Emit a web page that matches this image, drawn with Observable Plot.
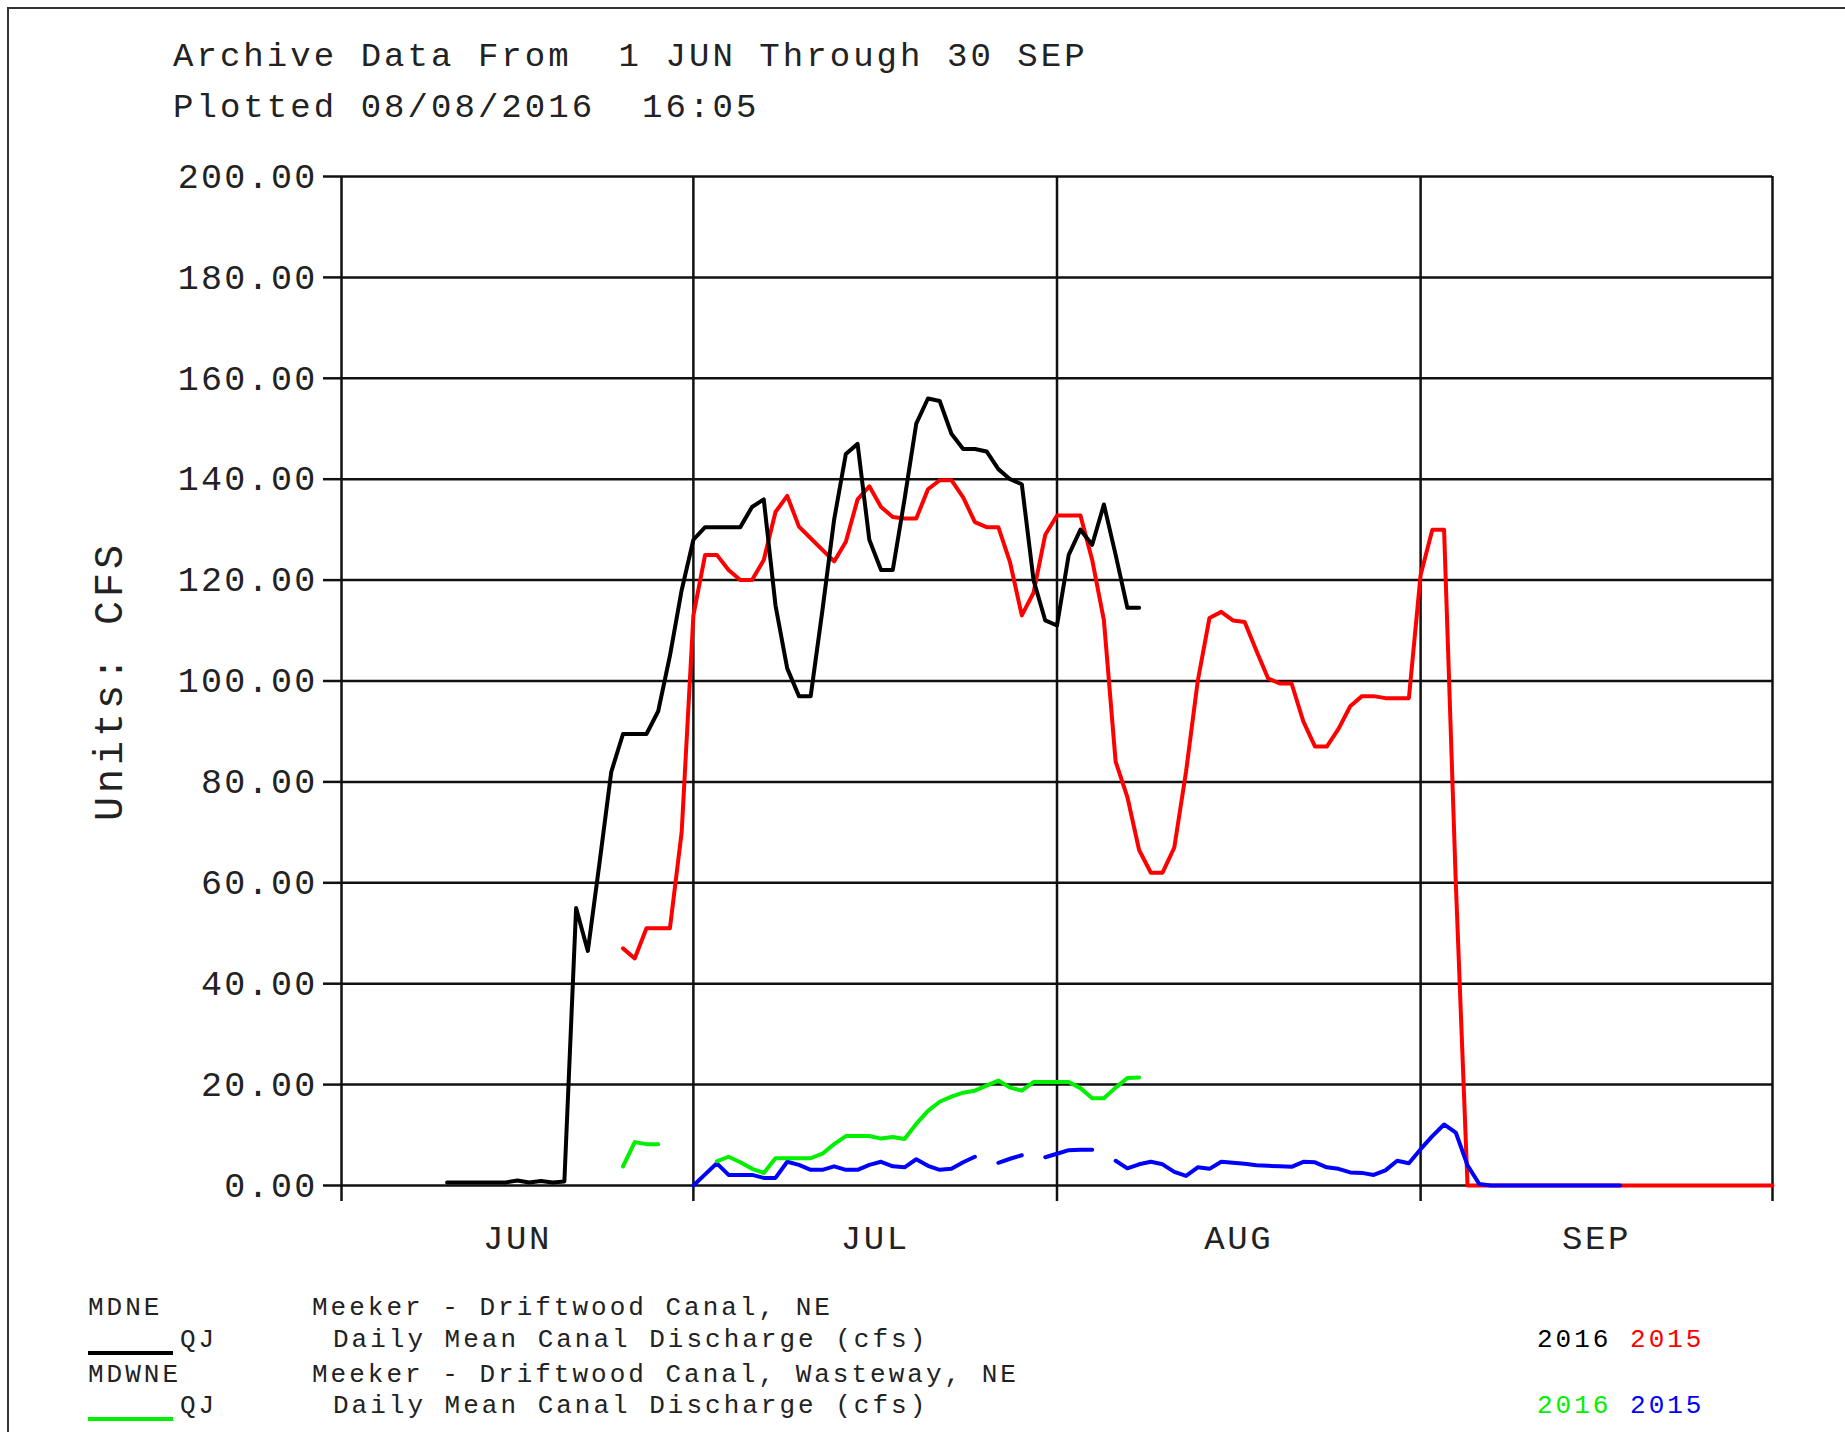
<!DOCTYPE html>
<html>
<head>
<meta charset="utf-8">
<script src="https://cdn.jsdelivr.net/npm/d3@7"></script>
<script src="https://cdn.jsdelivr.net/npm/@observablehq/plot@0.6"></script>
<style>
  html, body { margin: 0; padding: 0; background: #fff; }
  #page { position: relative; width: 1845px; height: 1432px; overflow: hidden; background: #fff; font-family: "Liberation Mono", monospace; }
  .abs { position: absolute; }
  svg text { white-space: pre; }
</style>
</head>
<body>
<div id="page"></div>
<script>
// ---------------- data (x = days since 1 JUN) ----------------
const titleLines = ["Archive Data From  1 JUN Through 30 SEP", "Plotted 08/08/2016  16:05"];
const months = ["JUN", "JUL", "AUG", "SEP"];
const monthStarts = [0, 30, 61, 92, 122];
const monthMids = [15, 45.5, 76.5, 107];
const yTicks = [0, 20, 40, 60, 80, 100, 120, 140, 160, 180, 200];

// MDNE 2016 (black)
const mdne2016Start = 9;
const mdne2016 = [0.6, 0.6, 0.6, 0.6, 0.6, 0.6, 1.0, 0.6, 0.9, 0.6, 0.8,
  55, 46.5, 64, 82, 89.5, 89.5, 89.5, 94, 105, 118, 128, 130.5, 130.5, 130.5, 130.5,
  134.5, 136, 115, 102.5, 97, 97, 114, 132, 145, 147, 128, 122, 122, 136, 151, 156,
  155.5, 149, 146, 146, 145.5, 142, 140, 139, 120, 112, 111, 125, 130, 127, 135, 125,
  114.5, 114.5];

// MDNE 2015 (red)
const mdne2015Start = 24;
const mdne2015 = [47, 45, 51, 51, 51, 70, 113, 125, 125, 122, 120, 120, 124, 133.5, 136.7,
  130.6, 128.3, 126, 123.7, 127.6, 136, 138.6, 134.5, 132.5, 132.2, 132.2, 138, 139.8,
  139.8, 136.4, 131.5, 130.5, 130.5, 123.5, 113, 117.5, 129, 132.8, 132.8, 132.8, 124,
  112, 84, 77, 66.5, 62, 62, 67, 82, 100, 112.5, 113.7, 112, 111.7, 106, 100.5, 99.5,
  99.5, 92, 87, 87, 90.5, 95, 97, 97, 96.6, 96.6, 96.6, 121, 130, 130, 60,
  0, 0, 0, 0, 0, 0, 0, 0, 0, 0, 0, 0, 0, 0, 0, 0, 0, 0, 0, 0, 0, 0, 0, 0, 0, 0, 0];

// MDWNE 2016 (green)
const mdwne2016Start = 24;
const mdwne2016 = [3.8, 8.6, 8.2, 8.2, null, null, null, null,
  4.8, 5.7, 4.6, 3.3, 2.5, 5.4, 5.4, 5.4, 5.4, 6.3, 8.2, 9.8, 9.8, 9.8, 9.3, 9.6, 9.2,
  12.2, 14.8, 16.6, 17.6, 18.4, 18.8, 19.8, 20.8, 19.4, 18.8, 20.5, 20.5, 20.5, 20.5,
  19.3, 17.3, 17.3, 19.4, 21.3, 21.4];

// MDWNE 2015 (blue)
const mdwne2015Start = 30;
const mdwne2015 = [0, 2.2, 4.4, 2.1, 2.1, 2.1, 1.5, 1.5, 4.7, 4.1, 3.1, 3.1, 3.8, 3.1, 3.1,
  4.1, 4.7, 3.8, 3.6, 5.2, 3.9, 3.1, 3.3, 4.6, 5.7, null, 4.5, 5.3, 6.0, null, 5.6, 6.3,
  7.0, 7.1, 7.1, null, 4.9, 3.4, 4.2, 4.7, 4.2, 2.7, 1.9, 3.6, 3.3, 4.7, 4.5, 4.3, 4.0,
  3.9, 3.8, 3.7, 4.7, 4.6, 3.6, 3.3, 2.6, 2.5, 2.1, 3.0, 4.9, 4.4, 7.2, 9.8, 12.1, 10.5,
  4.0, 0.3, 0, 0, 0, 0, 0, 0, 0, 0, 0, 0, 0, 0];

const legendRows = [
  {code: "MDNE", site: "Meeker - Driftwood Canal, NE", param: "QJ", desc: "Daily Mean Canal Discharge (cfs)", c2016: "#000000", c2015: "#ff0000"},
  {code: "MDWNE", site: "Meeker - Driftwood Canal, Wasteway, NE", param: "QJ", desc: "Daily Mean Canal Discharge (cfs)", c2016: "#00f000", c2015: "#0000ff"}
];
const years = ["2016", "2015"];

// ---------------- helpers ----------------
const toRows = (start, vals) => vals.map((v, i) => ({d: start + i, v}));
const page = document.getElementById("page");
const NS = "http://www.w3.org/2000/svg";
function el(tag, attrs, parent) {
  const e = document.createElementNS(NS, tag);
  for (const k in attrs) e.setAttribute(k, attrs[k]);
  if (parent) parent.appendChild(e);
  return e;
}

// outer frame (top + left borders)
const bt = document.createElement("div");
bt.className = "abs"; bt.style.cssText = "left:7px;top:7px;width:1838px;height:2px;background:#333;";
page.appendChild(bt);
const bl = document.createElement("div");
bl.className = "abs"; bl.style.cssText = "left:7px;top:7px;width:2px;height:1425px;background:#333;";
page.appendChild(bl);

// header
const head = el("svg", {width: 1845, height: 130, class: "abs"});
head.style.left = "0px"; head.style.top = "0px";
titleLines.forEach((t, i) => {
  const tx = el("text", {x: 173, y: 66 + i * 51, "font-size": 34, "font-family": "Liberation Mono", fill: "#222"}, head);
  tx.style.letterSpacing = "3.05px";
  tx.textContent = t;
});
page.appendChild(head);

// ---------------- chart ----------------
const lineW = 4;
const gridC = "#111";
const chart = Plot.plot({
  width: 1845,
  height: 1130,
  marginLeft: 341,
  marginRight: 73,
  marginTop: 46,
  marginBottom: 75,
  x: {domain: [0, 122]},
  y: {domain: [0, 200]},
  style: {fontFamily: "'Liberation Mono', monospace", background: "transparent", color: "#222", overflow: "visible"},
  marks: [
    Plot.gridY(yTicks, {stroke: gridC, strokeOpacity: 1, strokeWidth: 2.5}),
    Plot.gridX(monthStarts, {stroke: gridC, strokeOpacity: 1, strokeWidth: 2.5}),
    Plot.axisY(yTicks, {tickSize: 18, tickPadding: 6, tickFormat: d3.format(".2f"), fontSize: 35, label: null, stroke: gridC, strokeWidth: 2.5}),
    Plot.axisX(monthStarts, {tickSize: 16, tickFormat: () => "", label: null, stroke: gridC, strokeWidth: 2.5}),
    Plot.axisX(monthMids, {tickSize: 0, tickPadding: 39, tickFormat: (d, i) => months[i], fontSize: 34, label: null}),
    Plot.text(["Units: CFS"], {frameAnchor: "left", textAnchor: "middle", dx: -232, rotate: -90, text: d => d, fontSize: 40, fill: "#222"}),
    Plot.line(toRows(mdne2015Start, mdne2015), {x: "d", y: "v", stroke: "#ff0000", strokeWidth: lineW}),
    Plot.line(toRows(mdne2016Start, mdne2016), {x: "d", y: "v", stroke: "#000000", strokeWidth: lineW}),
    Plot.line(toRows(mdwne2015Start, mdwne2015), {x: "d", y: "v", stroke: "#0000ff", strokeWidth: lineW}),
    Plot.line(toRows(mdwne2016Start, mdwne2016), {x: "d", y: "v", stroke: "#00f000", strokeWidth: lineW})
  ]
});
chart.classList.add("abs");
chart.style.left = "0px";
chart.style.top = "130px";
chart.querySelectorAll('g[aria-label="y-axis tick label"] text').forEach(t => t.style.letterSpacing = "2.3px");
chart.querySelectorAll('g[aria-label="x-axis tick label"] text').forEach(t => t.style.letterSpacing = "2.6px");
chart.querySelectorAll('g[aria-label="text"] text').forEach(t => t.style.letterSpacing = "4px");
page.appendChild(chart);

// ---------------- legend ----------------
const leg = el("svg", {width: 1845, height: 172, class: "abs"});
leg.style.left = "0px"; leg.style.top = "1260px";
const legFont = 26, legLS = "3px";
legendRows.forEach((r, i) => {
  const b1 = 55 + i * 66.7, b2 = 87 + i * 66;
  const mk = (x, y, s, fill) => {
    const t = el("text", {x, y, "font-size": legFont, "font-family": "Liberation Mono", fill: fill || "#222"}, leg);
    t.style.letterSpacing = legLS; t.textContent = s; return t;
  };
  mk(88, b1, r.code);
  mk(312, b1, r.site);
  mk(180, b2, r.param);
  mk(333, b2, r.desc);
  const yt = el("text", {x: 1537, y: b2, "font-size": legFont, "font-family": "Liberation Mono"}, leg);
  yt.style.letterSpacing = legLS;
  const s1 = el("tspan", {fill: r.c2016}, yt); s1.textContent = years[0];
  const s2 = el("tspan", {fill: "#222"}, yt); s2.textContent = " ";
  const s3 = el("tspan", {fill: r.c2015}, yt); s3.textContent = years[1];
  el("rect", {x: 88, y: b2 + 4, width: 85, height: 4, fill: r.c2016}, leg);
});
page.appendChild(leg);
</script>
</body>
</html>
